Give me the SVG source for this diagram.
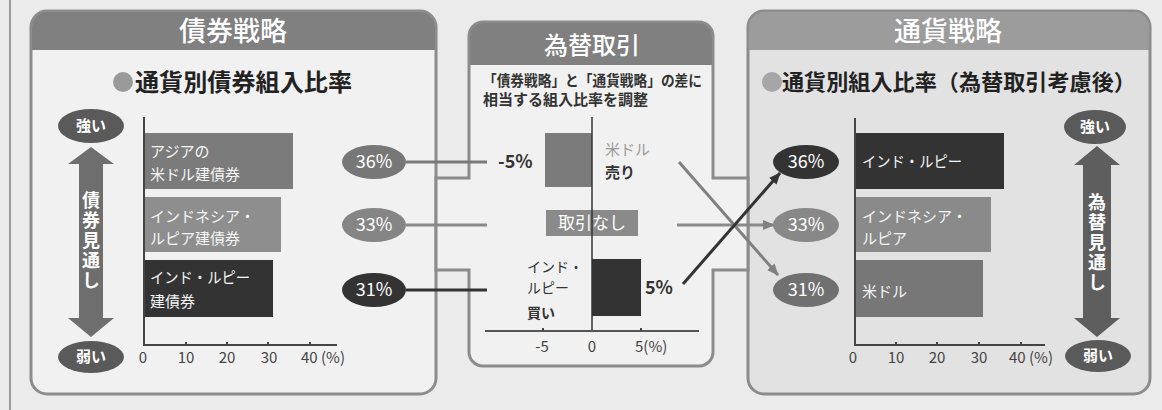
<svg xmlns="http://www.w3.org/2000/svg" width="1162" height="410" viewBox="0 0 1162 410">
<defs>
<style>
text{font-family:"Noto Sans CJK JP","Noto Sans",sans-serif}
.title{font-size:27px;fill:#fff;text-anchor:middle;font-weight:500}
.sub{font-size:24px;fill:#222;font-weight:700}
.bar{font-size:15px;fill:#f4f4f4}
.pct{font-size:18px;fill:#fff;text-anchor:middle}
.ax{font-size:15px;fill:#444;text-anchor:middle}
.pill{font-size:15px;fill:#fff;text-anchor:middle;font-weight:700}
.vt{font-size:18px;fill:#fff;text-anchor:middle;font-weight:700;writing-mode:vertical-rl;letter-spacing:2px}
.panel{stroke:#8c8c8c;stroke-width:3}
.axis{stroke:#444;stroke-width:2;fill:none}
</style>
<marker id="ag" markerWidth="12" markerHeight="10" refX="11" refY="5" orient="auto" markerUnits="userSpaceOnUse"><path d="M0,0 L12,5 L0,10 Z" fill="#808080"/></marker>
<marker id="ad" markerWidth="12" markerHeight="10" refX="11" refY="5" orient="auto" markerUnits="userSpaceOnUse"><path d="M0,0 L12,5 L0,10 Z" fill="#333"/></marker>
</defs>
<rect width="1162" height="410" fill="#ebebeb"/>
<line x1="10" y1="0" x2="10" y2="410" stroke="#9a9a9a" stroke-width="2"/>

<g id="bond-strategy">
<rect class="panel" x="31" y="11" width="405" height="383" rx="16" fill="#f1f1f1"/>
<path d="M32,50 V27 A15,15 0 0 1 47,12 H420 A15,15 0 0 1 435,27 V50 Z" fill="#808080"/>
<text class="title" x="233" y="41">債券戦略</text>
<circle cx="123" cy="82" r="10" fill="#9a9a9a"/>
<text class="sub" x="135" y="91" textLength="217" lengthAdjust="spacingAndGlyphs">通貨別債券組入比率</text>
<polygon points="91,147 114,164 103,164 103,318 114,318 91,337 68,318 79,318 79,164 68,164" fill="#6e6e6e"/>
<ellipse cx="91" cy="126" rx="33" ry="17" fill="#5a5a5a"/>
<text class="pill" x="91" y="131">強い</text>
<ellipse cx="91" cy="357" rx="33" ry="16" fill="#5a5a5a"/>
<text class="pill" x="91" y="362">弱い</text>
<text class="vt" x="91" y="241">債券見通し</text>
<rect x="144" y="133" width="149" height="56" fill="#7b7b7b"/>
<rect x="144" y="197" width="137" height="55" fill="#8e8e8e"/>
<rect x="144" y="260" width="129" height="57" fill="#333"/>
<text class="bar" x="150" y="157">アジアの</text>
<text class="bar" x="150" y="180">米ドル建債券</text>
<text class="bar" x="150" y="222">インドネシア・</text>
<text class="bar" x="150" y="244">ルピア建債券</text>
<text class="bar" x="150" y="283" textLength="100" lengthAdjust="spacingAndGlyphs">インド・ルピー</text>
<text class="bar" x="150" y="307">建債券</text>
<path class="axis" d="M144,117 V345 H337"/>
<g fill="#444"><rect x="185" y="342" width="2" height="3"/><rect x="226" y="342" width="2" height="3"/><rect x="267" y="342" width="2" height="3"/><rect x="309" y="342" width="2" height="3"/></g>
<text class="ax" x="143" y="363">0</text>
<text class="ax" x="186" y="363">10</text>
<text class="ax" x="227" y="363">20</text>
<text class="ax" x="269" y="363">30</text>
<text class="ax" x="301" y="363" style="text-anchor:start">40 (%)</text>
</g>

<g id="currency-strategy">
<rect class="panel" x="748" y="11" width="402" height="383" rx="16" fill="#e2e2e2"/>
<path d="M749,50 V27 A15,15 0 0 1 764,12 H1134 A15,15 0 0 1 1149,27 V50 Z" fill="#9c9c9c"/>
<text class="title" x="948" y="41">通貨戦略</text>
<circle cx="772" cy="82" r="10" fill="#a6a6a6"/>
<text class="sub" x="782" y="90" style="font-size:22px" textLength="354" lengthAdjust="spacingAndGlyphs">通貨別組入比率（為替取引考慮後）</text>
<polygon points="1097,146 1120,165 1111,165 1111,318 1120,318 1097,337 1074,318 1083,318 1083,165 1074,165" fill="#5e5e5e"/>
<ellipse cx="1095" cy="127" rx="31" ry="17" fill="#5a5a5a"/>
<text class="pill" x="1095" y="132">強い</text>
<ellipse cx="1098" cy="356" rx="33" ry="16" fill="#5a5a5a"/>
<text class="pill" x="1098" y="361">弱い</text>
<text class="vt" x="1097" y="243">為替見通し</text>
<rect x="855" y="133" width="149" height="56" fill="#333"/>
<rect x="855" y="197" width="136" height="55" fill="#8a8a8a"/>
<rect x="855" y="260" width="128" height="57" fill="#777"/>
<text class="bar" x="862" y="167" textLength="100" lengthAdjust="spacingAndGlyphs">インド・ルピー</text>
<text class="bar" x="862" y="222">インドネシア・</text>
<text class="bar" x="862" y="244">ルピア</text>
<text class="bar" x="862" y="297">米ドル</text>
<path class="axis" d="M855,118 V345 H1045"/>
<g fill="#444"><rect x="895" y="342" width="2" height="3"/><rect x="936" y="342" width="2" height="3"/><rect x="978" y="342" width="2" height="3"/><rect x="1020" y="342" width="2" height="3"/></g>
<text class="ax" x="853" y="363">0</text>
<text class="ax" x="896" y="363">10</text>
<text class="ax" x="937" y="363">20</text>
<text class="ax" x="979" y="363">30</text>
<text class="ax" x="1009" y="363" style="text-anchor:start">40 (%)</text>
</g>

<g id="fx-trade">
<path class="panel" d="M469,36 A14,14 0 0 1 483,22 H699 A14,14 0 0 1 713,36 V178 H748 V270 H713 V352 A14,14 0 0 1 699,366 H483 A14,14 0 0 1 469,352 V270 H436 V178 H469 Z" fill="#f1f1f1"/>
<path d="M470,65 V36 A13,13 0 0 1 483,23 H699 A13,13 0 0 1 712,36 V65 Z" fill="#808080"/>
<text class="title" x="592" y="54" style="font-size:24px">為替取引</text>
<text x="483" y="86" style="font-size:15px;font-weight:700;fill:#333" textLength="219" lengthAdjust="spacingAndGlyphs">「債券戦略」と「通貨戦略」の差に</text>
<text x="483" y="105" style="font-size:15px;font-weight:700;fill:#333" textLength="165">相当する組入比率を調整</text>
<rect x="545" y="133" width="47" height="54" fill="#7b7b7b"/>
<rect x="592" y="259" width="49" height="57" fill="#333"/>
<rect x="546" y="210" width="92" height="26" fill="#8a8a8a"/>
<text x="592" y="229" style="font-size:17px;fill:#fff;text-anchor:middle">取引なし</text>
<line x1="592" y1="117" x2="592" y2="331" stroke="#333" stroke-width="1.5"/>
<line x1="485" y1="331" x2="699" y2="331" stroke="#555" stroke-width="2"/>
<g fill="#444"><rect x="542" y="328" width="2" height="3"/><rect x="640" y="328" width="2" height="3"/></g>
<text class="ax" x="542" y="352">-5</text>
<text class="ax" x="592" y="352">0</text>
<text class="ax" x="635" y="352" style="text-anchor:start">5(%)</text>
<text x="498" y="168" style="font-size:18px;font-weight:700;fill:#333">-5%</text>
<text x="605" y="155" style="font-size:15px;fill:#9a9a9a">米ドル</text>
<text x="605" y="178" style="font-size:15px;font-weight:700;fill:#333">売り</text>
<text x="527" y="272" style="font-size:14px;fill:#333">インド・</text>
<text x="527" y="293" style="font-size:14px;fill:#333">ルピー</text>
<text x="527" y="318" style="font-size:14px;font-weight:700;fill:#333">買い</text>
<text x="645" y="294" style="font-size:18px;font-weight:700;fill:#333">5%</text>
</g>

<g id="bond-pcts">
<ellipse cx="374" cy="162" rx="32" ry="17" fill="#777"/>
<text class="pct" x="374" y="168">36%</text>
<ellipse cx="374" cy="225" rx="32" ry="17" fill="#858585"/>
<text class="pct" x="374" y="231">33%</text>
<ellipse cx="374" cy="290" rx="32" ry="17" fill="#333"/>
<text class="pct" x="374" y="296">31%</text>
</g>

<g id="currency-pcts">
<ellipse cx="806" cy="162" rx="33" ry="17" fill="#333"/>
<text class="pct" x="806" y="168">36%</text>
<ellipse cx="806" cy="225" rx="33" ry="17" fill="#888"/>
<text class="pct" x="806" y="231">33%</text>
<ellipse cx="806" cy="290" rx="33" ry="17" fill="#707070"/>
<text class="pct" x="806" y="296">31%</text>
</g>

<g id="connectors" fill="none" stroke-width="3">
<line x1="406" y1="162" x2="487" y2="162" stroke="#7a7a7a"/>
<line x1="406" y1="225" x2="487" y2="225" stroke="#8a8a8a"/>
<line x1="406" y1="290" x2="487" y2="290" stroke="#333"/>
<line x1="679" y1="162" x2="778" y2="275" stroke="#808080" marker-end="url(#ag)"/>
<line x1="677" y1="225" x2="774" y2="225" stroke="#8a8a8a" marker-end="url(#ag)"/>
<line x1="683" y1="284" x2="780" y2="173" stroke="#333" marker-end="url(#ad)"/>
</g>
</svg>
